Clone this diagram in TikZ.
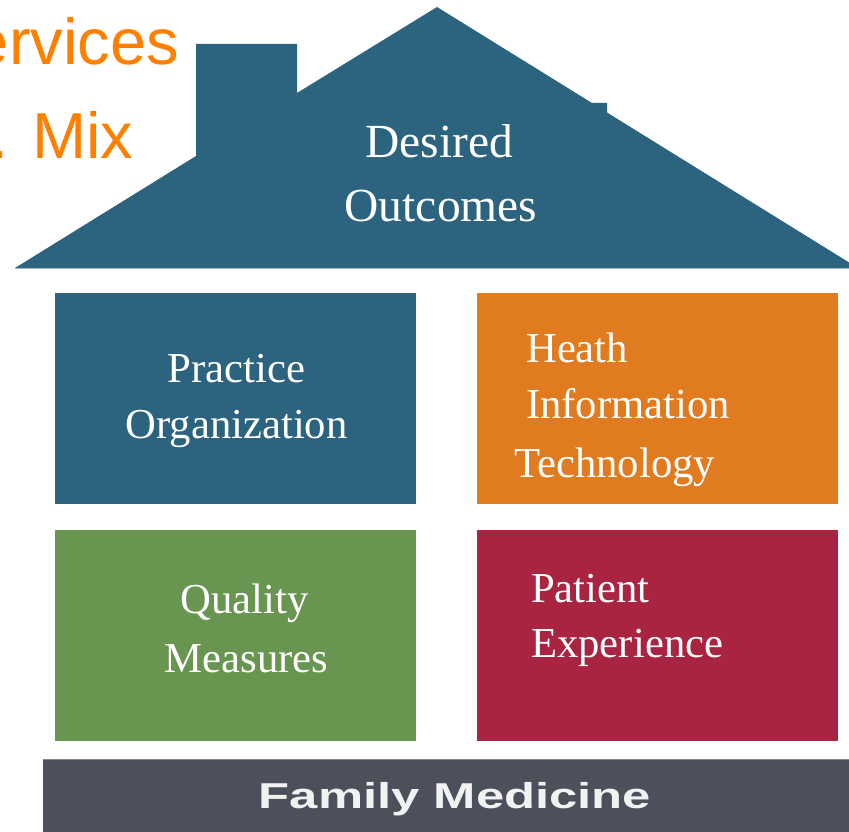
\documentclass[tikz,border=0pt]{standalone}
\usepackage{fontspec}
\setmainfont{Liberation Serif}
\newfontfamily\sansf{Liberation Sans}
\definecolor{roofblue}{RGB}{44,100,128}
\definecolor{roofedge}{RGB}{160,188,203}
\definecolor{hitorange}{RGB}{224,123,31}
\definecolor{qmgreen}{RGB}{104,150,80}
\definecolor{pecrimson}{RGB}{168,36,64}
\definecolor{bargray}{RGB}{75,80,90}
\definecolor{baredge}{RGB}{130,134,140}
\definecolor{orangetext}{RGB}{255,128,0}
\definecolor{fmwhite}{RGB}{242,242,242}
\begin{document}
\begin{tikzpicture}[x=1pt,y=-1pt,
  box/.style={draw=none,inner sep=0pt,anchor=north west,minimum width=361pt,minimum height=211pt},
  lbl/.style={text=white,inner sep=0pt,font=\fontsize{42.7}{50}\selectfont},
  biglbl/.style={text=white,inner sep=0pt,font=\fontsize{47.5}{56}\selectfont},
  sidetext/.style={text=orangetext,inner sep=0pt,font=\sansf\fontsize{65}{72}\selectfont}
  ]
\useasboundingbox (0,0) rectangle (849,832);
% side text (cut off at the left edge)
\node[sidetext,anchor=base east] (svc) at (179,65) {Services};
\node[sidetext,anchor=base west] (mix) at (-10,159) {. Mix};
% roof with chimney
\fill[roofblue] (15,268) -- (196,156) -- (196,44) -- (297,44) -- (297,93) -- (437,7)
  -- (592,103) -- (607,103) -- (607,112.5) -- (858,268) -- cycle;
\draw[roofedge,line width=1pt] (15,268.2) -- (849,268.2);
\node[biglbl,anchor=base] (des) at (439,158) {Desired};
\node[biglbl,anchor=base] (out) at (441,222) {Outcomes};
% boxes
\node[box,fill=roofblue] (po) at (55,293) {};
\node[box,fill=hitorange] (hit) at (477,293) {};
\node[box,fill=qmgreen] (qm) at (55,530) {};
\node[box,fill=pecrimson] (pe) at (477,530) {};
\node[lbl,anchor=base] (po1) at (236.5,382) {Practice};
\node[lbl,anchor=base] (po2) at (236.5,438) {Organization};
\node[lbl,anchor=base west] (hit1) at (526,362) {Heath};
\node[lbl,anchor=base west] (hit2) at (526,418) {Information};
\node[lbl,anchor=base west] (hit3) at (514,477) {Technology};
\node[lbl,anchor=base] (qm1) at (244.5,613) {Quality};
\node[lbl,anchor=base] (qm2) at (246.5,672) {Measures};
\node[lbl,anchor=base west] (pe1) at (531,602) {Patient};
\node[lbl,anchor=base west] (pe2) at (531,657) {Experience};
% base bar
\node[draw=none,fill=bargray,inner sep=0pt,anchor=north west,minimum width=806pt,minimum height=73pt] (bar) at (43,759) {};
\draw[baredge,line width=1pt] (43,759.5) -- (849,759.5);
\node[anchor=base,inner sep=0pt,text=fmwhite,font=\sansf\bfseries\fontsize{36}{40}\selectfont] (fm) at (455,808) {\scalebox{1.41}[1]{Family Medicine}};
\end{tikzpicture}
\end{document}
